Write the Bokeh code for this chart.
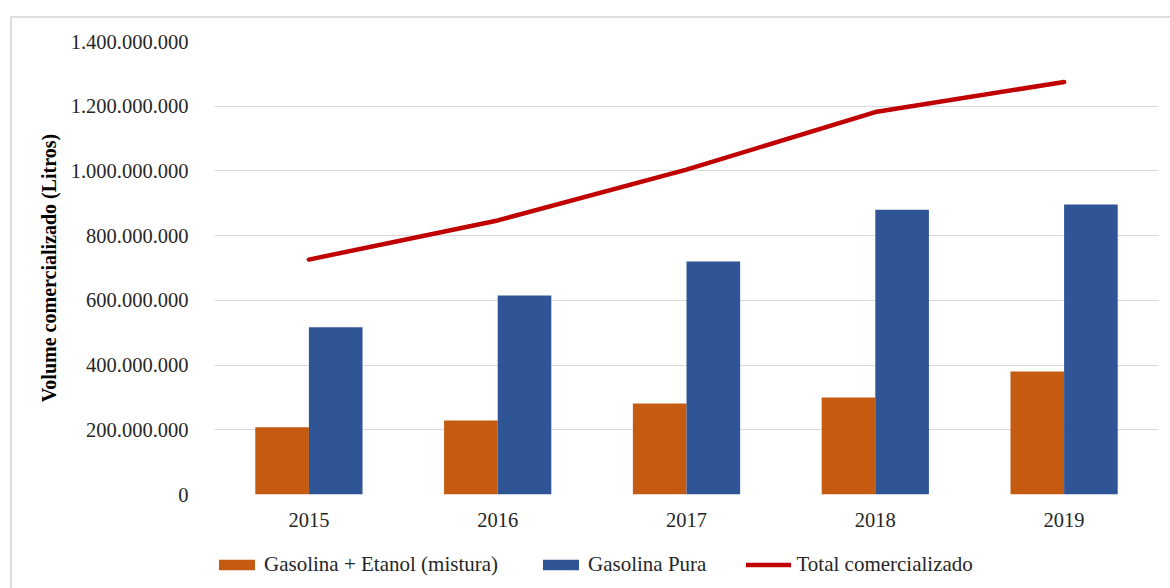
from bokeh.plotting import figure
from bokeh.layouts import column
from bokeh.models import (ColumnDataSource, FactorRange, Range1d, FixedTicker,
                          Legend, LegendItem)
from bokeh.transform import dodge
from bokeh.embed import file_html
from bokeh.resources import INLINE

years = ["2015", "2016", "2017", "2018", "2019"]
mistura = [208e6, 229e6, 281e6, 300e6, 380e6]
pura = [517e6, 615e6, 720e6, 880e6, 896e6]
total = [726e6, 847e6, 1004e6, 1182e6, 1275e6]
y_ticks = [0, 200e6, 400e6, 600e6, 800e6, 1000e6, 1200e6, 1400e6]
y_tick_labels = ["0", "200.000.000", "400.000.000", "600.000.000", "800.000.000",
                 "1.000.000.000", "1.200.000.000", "1.400.000.000"]
series_names = ["Gasolina + Etanol (mistura)", "Gasolina Pura", "Total comercializado"]
y_title = "Volume comercializado (Litros)"

FONT = "Liberation Serif"
TXT = "#262626"
C_MIX, C_PURA, C_TOT = "#c55a11", "#2f5597", "#c00000"

src = ColumnDataSource(dict(years=years, mistura=mistura, pura=pura, total=total))

p = figure(x_range=FactorRange(*years), y_range=Range1d(0, 1.4e9),
           width=1158, height=512, output_backend="svg", toolbar_location=None,
           min_border_left=202, min_border_right=12, min_border_top=23,
           min_border_bottom=36)
p.outline_line_color = None
p.background_fill_color = "white"
p.border_fill_color = "white"

bw = 0.284
p.vbar(x=dodge("years", -bw / 2, range=p.x_range), top="mistura", width=bw,
       source=src, fill_color=C_MIX, line_color=None)
p.vbar(x=dodge("years", bw / 2, range=p.x_range), top="pura", width=bw,
       source=src, fill_color=C_PURA, line_color=None)
p.line(x="years", y="total", source=src, line_color=C_TOT, line_width=4.5,
       line_cap="round", line_join="round")

# axes
p.yaxis.ticker = FixedTicker(ticks=y_ticks)
p.yaxis.major_label_overrides = {t: l for t, l in zip(y_ticks, y_tick_labels)}
for ax in (p.xaxis, p.yaxis):
    ax.axis_line_color = None
    ax.major_tick_line_color = None
    ax.minor_tick_line_color = None
    ax.major_label_text_font = FONT
    ax.major_label_text_font_size = "20.5px"
    ax.major_label_text_color = TXT
p.yaxis.major_label_standoff = 20
p.xaxis.major_label_standoff = 12
p.yaxis.axis_label = y_title
p.yaxis.axis_label_text_font = FONT
p.yaxis.axis_label_text_font_size = "20px"
p.yaxis.axis_label_text_font_style = "bold"
p.yaxis.axis_label_text_color = "#000000"
p.yaxis.axis_label_standoff = 8

p.xgrid.grid_line_color = None
p.ygrid.grid_line_color = "#d9d9d9"
p.ygrid.grid_line_width = 1

# legend strip below the chart (its frame aligns with the chart frame)
pl = figure(width=1158, height=58, output_backend="svg", toolbar_location=None,
            x_range=Range1d(0, 1), y_range=Range1d(0, 1),
            x_axis_type=None, y_axis_type=None,
            min_border_left=0, min_border_right=0, min_border_top=0,
            min_border_bottom=0)
pl.outline_line_color = None
pl.xgrid.visible = False
pl.ygrid.visible = False
# legend proxies drawn outside the visible range
l1 = pl.vbar(x=[-5], top=[-5], width=0.1, fill_color=C_MIX, line_color=None)
l2 = pl.vbar(x=[-5], top=[-5], width=0.1, fill_color=C_PURA, line_color=None)
l3 = pl.line(x=[-6, -5], y=[-5, -5], line_color=C_TOT, line_width=4.5,
             line_cap="round")

legend = Legend(items=[LegendItem(label=series_names[0], renderers=[l1]),
                       LegendItem(label=series_names[1], renderers=[l2]),
                       LegendItem(label=series_names[2], renderers=[l3])],
                orientation="horizontal", location=(0, 11),
                border_line_color=None, background_fill_alpha=0,
                padding=0, margin=0, spacing=40, label_standoff=5,
                glyph_width=45, glyph_height=13, label_height=22,
                label_text_font=FONT, label_text_font_size="21px",
                label_text_color=TXT)
pl.add_layout(legend, "center")

layout = column(p, pl, spacing=0,
                styles={"margin-left": "10px", "margin-top": "16px",
                        "border-left": "2px solid #dcdcdc",
                        "border-top": "2px solid #dcdcdc"})

open("out.html", "w").write(file_html(layout, INLINE))
